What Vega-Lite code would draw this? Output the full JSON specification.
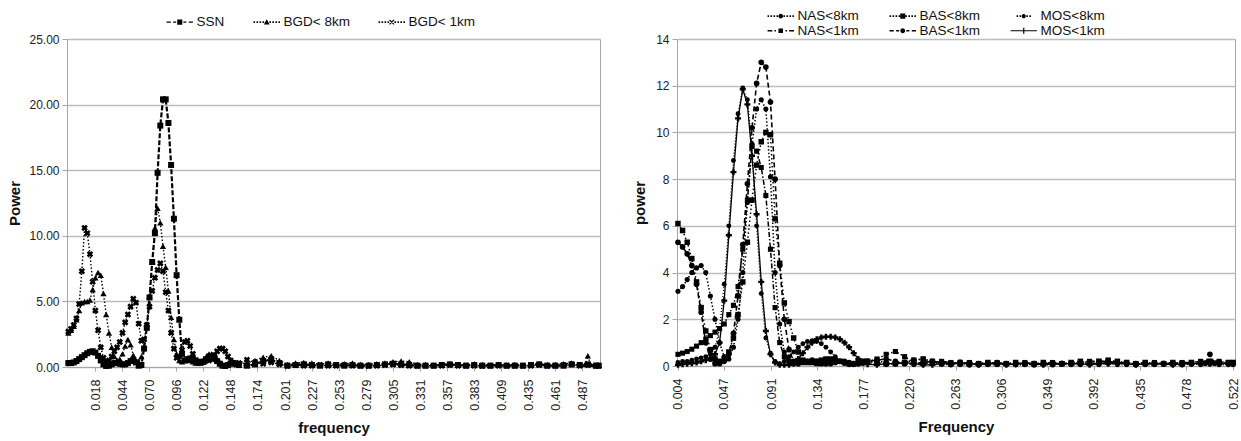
{
"$schema": "https://vega.github.io/schema/vega-lite/v6.json",
"background": "white",
"padding": {"left": 7, "top": 8, "right": 0, "bottom": 0},
"bounds": "flush",
"spacing": 77,
"resolve": {"scale": {"shape": "independent"}, "legend": {"shape": "independent"}},
"config": {
  "font": "Liberation Sans",
  "view": {"stroke": "#a6a6a6", "strokeWidth": 1},
  "axis": {"labelFont": "Liberation Sans", "labelFontSize": 12, "labelColor": "#222222", "titleFont": "Liberation Sans", "titleFontSize": 15, "titleFontWeight": "bold", "titleColor": "#111111", "gridColor": "#bdbdbd", "gridWidth": 1.3, "domainColor": "#a6a6a6", "tickColor": "#a6a6a6", "tickSize": 5}
},
"datasets": {
"ssn": [{"f":-0.0078,"p":0.3},{"f":-0.0052,"p":0.3},{"f":-0.0026,"p":0.35},{"f":0,"p":0.45},{"f":0.0026,"p":0.6},{"f":0.0052,"p":0.75},{"f":0.0078,"p":0.9},{"f":0.0104,"p":1.05},{"f":0.013,"p":1.15},{"f":0.0156,"p":1.2},{"f":0.0182,"p":1.1},{"f":0.0208,"p":0.85},{"f":0.0234,"p":0.5},{"f":0.026,"p":0.2},{"f":0.0286,"p":0.08},{"f":0.0313,"p":0.1},{"f":0.0339,"p":0.2},{"f":0.0365,"p":0.3},{"f":0.0391,"p":0.3},{"f":0.0417,"p":0.25},{"f":0.0443,"p":0.2},{"f":0.0469,"p":0.2},{"f":0.0495,"p":0.3},{"f":0.0521,"p":0.45},{"f":0.0547,"p":0.5},{"f":0.0573,"p":0.35},{"f":0.0599,"p":0.1},{"f":0.0625,"p":0.15},{"f":0.0651,"p":1.4},{"f":0.0677,"p":3},{"f":0.0703,"p":5.3},{"f":0.0729,"p":8},{"f":0.0755,"p":10.2},{"f":0.0781,"p":14.8},{"f":0.0807,"p":18.4},{"f":0.0833,"p":20.4},{"f":0.0859,"p":20.4},{"f":0.0885,"p":18.6},{"f":0.0911,"p":15.4},{"f":0.0938,"p":11.3},{"f":0.0964,"p":7},{"f":0.099,"p":3.6},{"f":0.1016,"p":1},{"f":0.1042,"p":0.5},{"f":0.1068,"p":0.6},{"f":0.1094,"p":0.65},{"f":0.112,"p":0.6},{"f":0.1146,"p":0.5},{"f":0.1172,"p":0.4},{"f":0.1198,"p":0.35},{"f":0.1224,"p":0.4},{"f":0.125,"p":0.6},{"f":0.1276,"p":0.8},{"f":0.1302,"p":0.85},{"f":0.1328,"p":0.7},{"f":0.1354,"p":0.45},{"f":0.138,"p":0.25},{"f":0.1406,"p":0.1},{"f":0.1432,"p":0.08},{"f":0.1458,"p":0.15},{"f":0.1484,"p":0.25},{"f":0.151,"p":0.3},{"f":0.1536,"p":0.25},{"f":0.1563,"p":0.15},{"f":0.1641,"p":0.1},{"f":0.1719,"p":0.2},{"f":0.1797,"p":0.45},{"f":0.1875,"p":0.55},{"f":0.1953,"p":0.3},{"f":0.2031,"p":0.1},{"f":0.2109,"p":0.15},{"f":0.2188,"p":0.2},{"f":0.2266,"p":0.15},{"f":0.2344,"p":0.1},{"f":0.2422,"p":0.2},{"f":0.25,"p":0.15},{"f":0.2578,"p":0.1},{"f":0.2656,"p":0.15},{"f":0.2734,"p":0.1},{"f":0.2813,"p":0.1},{"f":0.2891,"p":0.15},{"f":0.2969,"p":0.2},{"f":0.3047,"p":0.25},{"f":0.3125,"p":0.2},{"f":0.3203,"p":0.15},{"f":0.3281,"p":0.1},{"f":0.3359,"p":0.1},{"f":0.3438,"p":0.1},{"f":0.3516,"p":0.15},{"f":0.3594,"p":0.2},{"f":0.3672,"p":0.15},{"f":0.375,"p":0.1},{"f":0.3828,"p":0.15},{"f":0.3906,"p":0.1},{"f":0.3984,"p":0.1},{"f":0.4063,"p":0.15},{"f":0.4141,"p":0.1},{"f":0.4219,"p":0.1},{"f":0.4297,"p":0.1},{"f":0.4375,"p":0.15},{"f":0.4453,"p":0.2},{"f":0.4531,"p":0.1},{"f":0.4609,"p":0.1},{"f":0.4688,"p":0.1},{"f":0.4766,"p":0.2},{"f":0.4844,"p":0.15},{"f":0.4922,"p":0.2},{"f":0.5,"p":0.1},{"f":0.5026,"p":0.1}],
"bgd8": [{"f":-0.0078,"p":2.6},{"f":-0.0052,"p":2.8},{"f":-0.0026,"p":3.1},{"f":0,"p":3.6},{"f":0.0026,"p":4.3},{"f":0.0052,"p":4.9},{"f":0.0078,"p":5},{"f":0.0104,"p":5},{"f":0.013,"p":5.1},{"f":0.0156,"p":5.9},{"f":0.0182,"p":6.8},{"f":0.0208,"p":7.2},{"f":0.0234,"p":7},{"f":0.026,"p":5.6},{"f":0.0286,"p":4},{"f":0.0313,"p":2.6},{"f":0.0339,"p":1.5},{"f":0.0365,"p":0.8},{"f":0.0391,"p":0.5},{"f":0.0417,"p":0.6},{"f":0.0443,"p":1},{"f":0.0469,"p":1.6},{"f":0.0495,"p":2.1},{"f":0.0521,"p":1.7},{"f":0.0547,"p":0.9},{"f":0.0573,"p":0.5},{"f":0.0599,"p":0.4},{"f":0.0625,"p":0.8},{"f":0.0651,"p":1.6},{"f":0.0677,"p":3},{"f":0.0703,"p":5.4},{"f":0.0729,"p":8},{"f":0.0755,"p":10.6},{"f":0.0781,"p":12.1},{"f":0.0807,"p":11},{"f":0.0833,"p":9.2},{"f":0.0859,"p":7.6},{"f":0.0885,"p":5.8},{"f":0.0911,"p":3.8},{"f":0.0938,"p":2.1},{"f":0.0964,"p":1},{"f":0.099,"p":0.5},{"f":0.1016,"p":0.4},{"f":0.1042,"p":0.5},{"f":0.1068,"p":0.6},{"f":0.1094,"p":0.5},{"f":0.112,"p":0.4},{"f":0.1146,"p":0.3},{"f":0.1172,"p":0.3},{"f":0.1198,"p":0.4},{"f":0.1224,"p":0.6},{"f":0.125,"p":0.8},{"f":0.1276,"p":1},{"f":0.1302,"p":1},{"f":0.1328,"p":0.85},{"f":0.1354,"p":0.6},{"f":0.138,"p":0.35},{"f":0.1406,"p":0.2},{"f":0.1432,"p":0.15},{"f":0.1458,"p":0.2},{"f":0.1484,"p":0.3},{"f":0.151,"p":0.35},{"f":0.1536,"p":0.3},{"f":0.1563,"p":0.25},{"f":0.1641,"p":0.3},{"f":0.1719,"p":0.5},{"f":0.1797,"p":0.75},{"f":0.1875,"p":0.85},{"f":0.1953,"p":0.5},{"f":0.2031,"p":0.2},{"f":0.2109,"p":0.3},{"f":0.2188,"p":0.35},{"f":0.2266,"p":0.3},{"f":0.2344,"p":0.2},{"f":0.2422,"p":0.3},{"f":0.25,"p":0.2},{"f":0.2578,"p":0.25},{"f":0.2656,"p":0.3},{"f":0.2734,"p":0.2},{"f":0.2813,"p":0.2},{"f":0.2891,"p":0.25},{"f":0.2969,"p":0.3},{"f":0.3047,"p":0.4},{"f":0.3125,"p":0.45},{"f":0.3203,"p":0.4},{"f":0.3281,"p":0.2},{"f":0.3359,"p":0.2},{"f":0.3438,"p":0.15},{"f":0.3516,"p":0.2},{"f":0.3594,"p":0.25},{"f":0.3672,"p":0.2},{"f":0.375,"p":0.15},{"f":0.3828,"p":0.25},{"f":0.3906,"p":0.2},{"f":0.3984,"p":0.15},{"f":0.4063,"p":0.2},{"f":0.4141,"p":0.15},{"f":0.4219,"p":0.2},{"f":0.4297,"p":0.15},{"f":0.4375,"p":0.2},{"f":0.4453,"p":0.25},{"f":0.4531,"p":0.2},{"f":0.4609,"p":0.2},{"f":0.4688,"p":0.25},{"f":0.4766,"p":0.3},{"f":0.4844,"p":0.2},{"f":0.4896,"p":0.2},{"f":0.4922,"p":0.85},{"f":0.4948,"p":0.2},{"f":0.5,"p":0.15},{"f":0.5026,"p":0.15}],
"bgd1": [{"f":-0.0078,"p":2.7},{"f":-0.0052,"p":2.9},{"f":-0.0026,"p":3.2},{"f":0,"p":3.7},{"f":0.0026,"p":4.8},{"f":0.0052,"p":7.3},{"f":0.0078,"p":10.6},{"f":0.0104,"p":10.2},{"f":0.013,"p":8.6},{"f":0.0156,"p":6.5},{"f":0.0182,"p":4.3},{"f":0.0208,"p":2.8},{"f":0.0234,"p":1.5},{"f":0.026,"p":0.7},{"f":0.0286,"p":0.4},{"f":0.0313,"p":0.5},{"f":0.0339,"p":0.8},{"f":0.0365,"p":1.2},{"f":0.0391,"p":1.5},{"f":0.0417,"p":1.9},{"f":0.0443,"p":2.6},{"f":0.0469,"p":3.4},{"f":0.0495,"p":4},{"f":0.0521,"p":4.6},{"f":0.0547,"p":5.2},{"f":0.0573,"p":4.9},{"f":0.0599,"p":3.3},{"f":0.0625,"p":2},{"f":0.0651,"p":2.1},{"f":0.0677,"p":3.2},{"f":0.0703,"p":4.6},{"f":0.0729,"p":5.8},{"f":0.0755,"p":6.8},{"f":0.0781,"p":7.4},{"f":0.0807,"p":7.9},{"f":0.0833,"p":7.3},{"f":0.0859,"p":5.7},{"f":0.0885,"p":4.3},{"f":0.0911,"p":2.6},{"f":0.0938,"p":1.4},{"f":0.0964,"p":0.7},{"f":0.099,"p":0.8},{"f":0.1016,"p":1.3},{"f":0.1042,"p":1.9},{"f":0.1068,"p":2},{"f":0.1094,"p":1.6},{"f":0.112,"p":1},{"f":0.1146,"p":0.5},{"f":0.1172,"p":0.3},{"f":0.1198,"p":0.3},{"f":0.1224,"p":0.4},{"f":0.125,"p":0.5},{"f":0.1276,"p":0.5},{"f":0.1302,"p":0.6},{"f":0.1328,"p":0.9},{"f":0.1354,"p":1.2},{"f":0.138,"p":1.4},{"f":0.1406,"p":1.4},{"f":0.1432,"p":1.2},{"f":0.1458,"p":0.8},{"f":0.1484,"p":0.5},{"f":0.151,"p":0.3},{"f":0.1536,"p":0.2},{"f":0.1563,"p":0.3},{"f":0.1641,"p":0.55},{"f":0.1719,"p":0.35},{"f":0.1797,"p":0.25},{"f":0.1875,"p":0.35},{"f":0.1953,"p":0.2},{"f":0.2031,"p":0.1},{"f":0.2109,"p":0.15},{"f":0.2188,"p":0.1},{"f":0.2266,"p":0.1},{"f":0.2344,"p":0.15},{"f":0.2422,"p":0.1},{"f":0.25,"p":0.1},{"f":0.2578,"p":0.15},{"f":0.2656,"p":0.1},{"f":0.2734,"p":0.1},{"f":0.2813,"p":0.1},{"f":0.2891,"p":0.1},{"f":0.2969,"p":0.15},{"f":0.3047,"p":0.2},{"f":0.3125,"p":0.15},{"f":0.3203,"p":0.1},{"f":0.3281,"p":0.1},{"f":0.3359,"p":0.1},{"f":0.3438,"p":0.1},{"f":0.3516,"p":0.1},{"f":0.3594,"p":0.15},{"f":0.3672,"p":0.1},{"f":0.375,"p":0.1},{"f":0.3828,"p":0.1},{"f":0.3906,"p":0.1},{"f":0.3984,"p":0.1},{"f":0.4063,"p":0.1},{"f":0.4141,"p":0.1},{"f":0.4219,"p":0.1},{"f":0.4297,"p":0.1},{"f":0.4375,"p":0.1},{"f":0.4453,"p":0.15},{"f":0.4531,"p":0.1},{"f":0.4609,"p":0.1},{"f":0.4688,"p":0.15},{"f":0.4766,"p":0.2},{"f":0.4844,"p":0.1},{"f":0.4922,"p":0.15},{"f":0.5,"p":0.1},{"f":0.5026,"p":0.1}],
"nas8": [{"f":0.0043,"p":3.2},{"f":0.0086,"p":3.4},{"f":0.0129,"p":3.7},{"f":0.0172,"p":4},{"f":0.0216,"p":4.2},{"f":0.0259,"p":4.3},{"f":0.0302,"p":4},{"f":0.0345,"p":3},{"f":0.0388,"p":2},{"f":0.0431,"p":1},{"f":0.0474,"p":0.4},{"f":0.0517,"p":0.3},{"f":0.056,"p":0.8},{"f":0.0603,"p":2},{"f":0.0647,"p":4},{"f":0.069,"p":7},{"f":0.0733,"p":9.5},{"f":0.0776,"p":11},{"f":0.0819,"p":11.4},{"f":0.0862,"p":11},{"f":0.0905,"p":8.1},{"f":0.0948,"p":4},{"f":0.0991,"p":1.8},{"f":0.1034,"p":0.6},{"f":0.1078,"p":0.2},{"f":0.1121,"p":0.1},{"f":0.1164,"p":0.1},{"f":0.1207,"p":0.15},{"f":0.125,"p":0.2},{"f":0.1293,"p":0.2},{"f":0.1336,"p":0.15},{"f":0.1379,"p":0.1},{"f":0.1422,"p":0.1},{"f":0.1466,"p":0.15},{"f":0.1509,"p":0.2},{"f":0.1552,"p":0.2},{"f":0.1595,"p":0.15},{"f":0.1638,"p":0.1},{"f":0.1681,"p":0.1},{"f":0.1724,"p":0.1},{"f":0.1767,"p":0.15},{"f":0.181,"p":0.2},{"f":0.1897,"p":0.2},{"f":0.1983,"p":0.15},{"f":0.2069,"p":0.1},{"f":0.2155,"p":0.15},{"f":0.2241,"p":0.25},{"f":0.2328,"p":0.3},{"f":0.2414,"p":0.15},{"f":0.25,"p":0.1},{"f":0.2586,"p":0.05},{"f":0.2672,"p":0.1},{"f":0.2759,"p":0.1},{"f":0.2845,"p":0.05},{"f":0.2931,"p":0.1},{"f":0.3017,"p":0.1},{"f":0.3103,"p":0.1},{"f":0.319,"p":0.05},{"f":0.3276,"p":0.1},{"f":0.3362,"p":0.1},{"f":0.3448,"p":0.1},{"f":0.3534,"p":0.05},{"f":0.3621,"p":0.1},{"f":0.3707,"p":0.1},{"f":0.3793,"p":0.1},{"f":0.3879,"p":0.1},{"f":0.3966,"p":0.15},{"f":0.4052,"p":0.2},{"f":0.4138,"p":0.15},{"f":0.4224,"p":0.1},{"f":0.431,"p":0.05},{"f":0.4397,"p":0.1},{"f":0.4483,"p":0.1},{"f":0.4569,"p":0.1},{"f":0.4655,"p":0.1},{"f":0.4741,"p":0.05},{"f":0.4828,"p":0.1},{"f":0.4914,"p":0.1},{"f":0.5,"p":0.1},{"f":0.5086,"p":0.1},{"f":0.5172,"p":0.1},{"f":0.5216,"p":0.1}],
"nas1": [{"f":0.0043,"p":0.5},{"f":0.0086,"p":0.55},{"f":0.0129,"p":0.62},{"f":0.0172,"p":0.72},{"f":0.0216,"p":0.85},{"f":0.0259,"p":1},{"f":0.0302,"p":1.15},{"f":0.0345,"p":1.3},{"f":0.0388,"p":1.45},{"f":0.0431,"p":1.6},{"f":0.0474,"p":1.8},{"f":0.0517,"p":2.2},{"f":0.056,"p":2.6},{"f":0.0603,"p":3.4},{"f":0.0647,"p":5},{"f":0.069,"p":7.1},{"f":0.0733,"p":9.4},{"f":0.0776,"p":9.2},{"f":0.0819,"p":8.5},{"f":0.0862,"p":7.3},{"f":0.0905,"p":5},{"f":0.0948,"p":2.5},{"f":0.0991,"p":1},{"f":0.1034,"p":0.4},{"f":0.1078,"p":0.2},{"f":0.1121,"p":0.15},{"f":0.1164,"p":0.15},{"f":0.1207,"p":0.2},{"f":0.125,"p":0.2},{"f":0.1293,"p":0.15},{"f":0.1336,"p":0.1},{"f":0.1379,"p":0.1},{"f":0.1422,"p":0.15},{"f":0.1466,"p":0.2},{"f":0.1509,"p":0.25},{"f":0.1552,"p":0.2},{"f":0.1595,"p":0.15},{"f":0.1638,"p":0.1},{"f":0.1681,"p":0.1},{"f":0.1724,"p":0.15},{"f":0.1767,"p":0.2},{"f":0.181,"p":0.2},{"f":0.1897,"p":0.3},{"f":0.1983,"p":0.5},{"f":0.2069,"p":0.62},{"f":0.2155,"p":0.4},{"f":0.2241,"p":0.15},{"f":0.2328,"p":0.1},{"f":0.2414,"p":0.15},{"f":0.25,"p":0.2},{"f":0.2586,"p":0.15},{"f":0.2672,"p":0.1},{"f":0.2759,"p":0.15},{"f":0.2845,"p":0.1},{"f":0.2931,"p":0.1},{"f":0.3017,"p":0.15},{"f":0.3103,"p":0.1},{"f":0.319,"p":0.1},{"f":0.3276,"p":0.15},{"f":0.3362,"p":0.1},{"f":0.3448,"p":0.1},{"f":0.3534,"p":0.15},{"f":0.3621,"p":0.1},{"f":0.3707,"p":0.1},{"f":0.3793,"p":0.15},{"f":0.3879,"p":0.2},{"f":0.3966,"p":0.2},{"f":0.4052,"p":0.2},{"f":0.4138,"p":0.15},{"f":0.4224,"p":0.15},{"f":0.431,"p":0.1},{"f":0.4397,"p":0.1},{"f":0.4483,"p":0.15},{"f":0.4569,"p":0.1},{"f":0.4655,"p":0.1},{"f":0.4741,"p":0.15},{"f":0.4828,"p":0.15},{"f":0.4914,"p":0.2},{"f":0.5,"p":0.2},{"f":0.5086,"p":0.2},{"f":0.5172,"p":0.15},{"f":0.5216,"p":0.15}],
"bas8": [{"f":0.0043,"p":6.1},{"f":0.0086,"p":5.8},{"f":0.0129,"p":5.3},{"f":0.0172,"p":4.6},{"f":0.0216,"p":3.6},{"f":0.0259,"p":2.5},{"f":0.0302,"p":1.5},{"f":0.0345,"p":0.7},{"f":0.0388,"p":0.3},{"f":0.0431,"p":0.2},{"f":0.0474,"p":0.3},{"f":0.0517,"p":0.6},{"f":0.056,"p":1.2},{"f":0.0603,"p":2.2},{"f":0.0647,"p":3.6},{"f":0.069,"p":5.3},{"f":0.0733,"p":7.1},{"f":0.0776,"p":8.6},{"f":0.0819,"p":9.6},{"f":0.0862,"p":10},{"f":0.0905,"p":9.9},{"f":0.0948,"p":6.3},{"f":0.0991,"p":4.4},{"f":0.1034,"p":2.7},{"f":0.1078,"p":1.9},{"f":0.1121,"p":1.2},{"f":0.1164,"p":0.6},{"f":0.1207,"p":0.25},{"f":0.125,"p":0.15},{"f":0.1293,"p":0.15},{"f":0.1336,"p":0.2},{"f":0.1379,"p":0.25},{"f":0.1422,"p":0.3},{"f":0.1466,"p":0.3},{"f":0.1509,"p":0.25},{"f":0.1552,"p":0.2},{"f":0.1595,"p":0.15},{"f":0.1638,"p":0.1},{"f":0.1681,"p":0.1},{"f":0.1724,"p":0.15},{"f":0.1767,"p":0.2},{"f":0.181,"p":0.2},{"f":0.1897,"p":0.15},{"f":0.1983,"p":0.1},{"f":0.2069,"p":0.1},{"f":0.2155,"p":0.15},{"f":0.2241,"p":0.25},{"f":0.2328,"p":0.3},{"f":0.2414,"p":0.2},{"f":0.25,"p":0.1},{"f":0.2586,"p":0.1},{"f":0.2672,"p":0.15},{"f":0.2759,"p":0.1},{"f":0.2845,"p":0.1},{"f":0.2931,"p":0.15},{"f":0.3017,"p":0.1},{"f":0.3103,"p":0.1},{"f":0.319,"p":0.15},{"f":0.3276,"p":0.1},{"f":0.3362,"p":0.1},{"f":0.3448,"p":0.15},{"f":0.3534,"p":0.1},{"f":0.3621,"p":0.1},{"f":0.3707,"p":0.15},{"f":0.3793,"p":0.2},{"f":0.3879,"p":0.15},{"f":0.3966,"p":0.2},{"f":0.4052,"p":0.25},{"f":0.4138,"p":0.2},{"f":0.4224,"p":0.15},{"f":0.431,"p":0.1},{"f":0.4397,"p":0.15},{"f":0.4483,"p":0.1},{"f":0.4569,"p":0.1},{"f":0.4655,"p":0.15},{"f":0.4741,"p":0.1},{"f":0.4828,"p":0.15},{"f":0.4914,"p":0.15},{"f":0.5,"p":0.2},{"f":0.5086,"p":0.15},{"f":0.5172,"p":0.15},{"f":0.5216,"p":0.15}],
"bas1": [{"f":0.0043,"p":5.3},{"f":0.0086,"p":5.1},{"f":0.0129,"p":4.8},{"f":0.0172,"p":4.3},{"f":0.0216,"p":3.5},{"f":0.0259,"p":2.3},{"f":0.0302,"p":1},{"f":0.0345,"p":0.3},{"f":0.0388,"p":0.1},{"f":0.0431,"p":0.1},{"f":0.0474,"p":0.2},{"f":0.0517,"p":0.5},{"f":0.056,"p":1.4},{"f":0.0603,"p":3},{"f":0.0647,"p":5.2},{"f":0.069,"p":7.8},{"f":0.0733,"p":10.2},{"f":0.0776,"p":12.1},{"f":0.0819,"p":13},{"f":0.0862,"p":12.8},{"f":0.0905,"p":11.3},{"f":0.0948,"p":8},{"f":0.0991,"p":4.3},{"f":0.1034,"p":2},{"f":0.1078,"p":0.7},{"f":0.1121,"p":0.2},{"f":0.1164,"p":0.1},{"f":0.1207,"p":0.15},{"f":0.125,"p":0.2},{"f":0.1293,"p":0.25},{"f":0.1336,"p":0.2},{"f":0.1379,"p":0.15},{"f":0.1422,"p":0.1},{"f":0.1466,"p":0.1},{"f":0.1509,"p":0.15},{"f":0.1552,"p":0.2},{"f":0.1595,"p":0.2},{"f":0.1638,"p":0.15},{"f":0.1681,"p":0.1},{"f":0.1724,"p":0.1},{"f":0.1767,"p":0.15},{"f":0.181,"p":0.2},{"f":0.1897,"p":0.25},{"f":0.1983,"p":0.3},{"f":0.2069,"p":0.2},{"f":0.2155,"p":0.1},{"f":0.2241,"p":0.1},{"f":0.2328,"p":0.15},{"f":0.2414,"p":0.2},{"f":0.25,"p":0.15},{"f":0.2586,"p":0.1},{"f":0.2672,"p":0.1},{"f":0.2759,"p":0.05},{"f":0.2845,"p":0.1},{"f":0.2931,"p":0.1},{"f":0.3017,"p":0.15},{"f":0.3103,"p":0.1},{"f":0.319,"p":0.1},{"f":0.3276,"p":0.1},{"f":0.3362,"p":0.05},{"f":0.3448,"p":0.1},{"f":0.3534,"p":0.1},{"f":0.3621,"p":0.1},{"f":0.3707,"p":0.1},{"f":0.3793,"p":0.1},{"f":0.3879,"p":0.1},{"f":0.3966,"p":0.1},{"f":0.4052,"p":0.15},{"f":0.4138,"p":0.15},{"f":0.4224,"p":0.1},{"f":0.431,"p":0.1},{"f":0.4397,"p":0.1},{"f":0.4483,"p":0.1},{"f":0.4569,"p":0.1},{"f":0.4655,"p":0.1},{"f":0.4741,"p":0.1},{"f":0.4828,"p":0.1},{"f":0.4914,"p":0.15},{"f":0.4957,"p":0.12},{"f":0.5,"p":0.5},{"f":0.5043,"p":0.12},{"f":0.5086,"p":0.15},{"f":0.5172,"p":0.1},{"f":0.5216,"p":0.1}],
"mos8": [{"f":0.0043,"p":0.15},{"f":0.0086,"p":0.2},{"f":0.0129,"p":0.2},{"f":0.0172,"p":0.25},{"f":0.0216,"p":0.3},{"f":0.0259,"p":0.35},{"f":0.0302,"p":0.4},{"f":0.0345,"p":0.5},{"f":0.0388,"p":0.8},{"f":0.0431,"p":1.6},{"f":0.0474,"p":3.5},{"f":0.0517,"p":6},{"f":0.056,"p":8.8},{"f":0.0603,"p":10.8},{"f":0.0647,"p":11.9},{"f":0.069,"p":11.4},{"f":0.0733,"p":9.4},{"f":0.0776,"p":6},{"f":0.0819,"p":3.1},{"f":0.0862,"p":1.2},{"f":0.0905,"p":0.55},{"f":0.0948,"p":0.2},{"f":0.0991,"p":0.1},{"f":0.1034,"p":0.2},{"f":0.1078,"p":0.4},{"f":0.1121,"p":0.6},{"f":0.1164,"p":0.8},{"f":0.1207,"p":0.95},{"f":0.125,"p":1.05},{"f":0.1293,"p":1.08},{"f":0.1336,"p":1.05},{"f":0.1379,"p":0.95},{"f":0.1422,"p":0.8},{"f":0.1466,"p":0.6},{"f":0.1509,"p":0.4},{"f":0.1552,"p":0.2},{"f":0.1595,"p":0.1},{"f":0.1638,"p":0.05},{"f":0.1681,"p":0.05},{"f":0.1724,"p":0.1},{"f":0.1767,"p":0.1},{"f":0.181,"p":0.15},{"f":0.1897,"p":0.1},{"f":0.1983,"p":0.05},{"f":0.2069,"p":0.1},{"f":0.2155,"p":0.1},{"f":0.2241,"p":0.05},{"f":0.2328,"p":0.05},{"f":0.2414,"p":0.1},{"f":0.25,"p":0.1},{"f":0.2586,"p":0.1},{"f":0.2672,"p":0.05},{"f":0.2759,"p":0.05},{"f":0.2845,"p":0.1},{"f":0.2931,"p":0.05},{"f":0.3017,"p":0.05},{"f":0.3103,"p":0.1},{"f":0.319,"p":0.05},{"f":0.3276,"p":0.05},{"f":0.3362,"p":0.1},{"f":0.3448,"p":0.05},{"f":0.3534,"p":0.05},{"f":0.3621,"p":0.1},{"f":0.3707,"p":0.05},{"f":0.3793,"p":0.05},{"f":0.3879,"p":0.1},{"f":0.3966,"p":0.05},{"f":0.4052,"p":0.1},{"f":0.4138,"p":0.05},{"f":0.4224,"p":0.05},{"f":0.431,"p":0.1},{"f":0.4397,"p":0.05},{"f":0.4483,"p":0.05},{"f":0.4569,"p":0.1},{"f":0.4655,"p":0.05},{"f":0.4741,"p":0.05},{"f":0.4828,"p":0.1},{"f":0.4914,"p":0.05},{"f":0.5,"p":0.1},{"f":0.5086,"p":0.05},{"f":0.5172,"p":0.05},{"f":0.5216,"p":0.05}],
"mos1": [{"f":0.0043,"p":0.05},{"f":0.0086,"p":0.08},{"f":0.0129,"p":0.1},{"f":0.0172,"p":0.12},{"f":0.0216,"p":0.15},{"f":0.0259,"p":0.2},{"f":0.0302,"p":0.25},{"f":0.0345,"p":0.3},{"f":0.0388,"p":0.5},{"f":0.0431,"p":1},{"f":0.0474,"p":2.8},{"f":0.0517,"p":5.6},{"f":0.056,"p":8.3},{"f":0.0603,"p":10.6},{"f":0.0647,"p":11.85},{"f":0.069,"p":11.2},{"f":0.0733,"p":9},{"f":0.0776,"p":6.5},{"f":0.0819,"p":3.6},{"f":0.0862,"p":1.5},{"f":0.0905,"p":0.5},{"f":0.0948,"p":0.15},{"f":0.0991,"p":0.05},{"f":0.1034,"p":0.05},{"f":0.1078,"p":0.05},{"f":0.1121,"p":0.1},{"f":0.1164,"p":0.3},{"f":0.1207,"p":0.55},{"f":0.125,"p":0.8},{"f":0.1293,"p":1},{"f":0.1336,"p":1.15},{"f":0.1379,"p":1.22},{"f":0.1422,"p":1.25},{"f":0.1466,"p":1.25},{"f":0.1509,"p":1.22},{"f":0.1552,"p":1.15},{"f":0.1595,"p":1},{"f":0.1638,"p":0.8},{"f":0.1681,"p":0.55},{"f":0.1724,"p":0.3},{"f":0.1767,"p":0.15},{"f":0.181,"p":0.08},{"f":0.1897,"p":0.05},{"f":0.1983,"p":0.1},{"f":0.2069,"p":0.1},{"f":0.2155,"p":0.15},{"f":0.2241,"p":0.1},{"f":0.2328,"p":0.05},{"f":0.2414,"p":0.05},{"f":0.25,"p":0.1},{"f":0.2586,"p":0.1},{"f":0.2672,"p":0.15},{"f":0.2759,"p":0.1},{"f":0.2845,"p":0.05},{"f":0.2931,"p":0.1},{"f":0.3017,"p":0.1},{"f":0.3103,"p":0.05},{"f":0.319,"p":0.1},{"f":0.3276,"p":0.1},{"f":0.3362,"p":0.1},{"f":0.3448,"p":0.05},{"f":0.3534,"p":0.1},{"f":0.3621,"p":0.1},{"f":0.3707,"p":0.1},{"f":0.3793,"p":0.1},{"f":0.3879,"p":0.05},{"f":0.3966,"p":0.1},{"f":0.4052,"p":0.1},{"f":0.4138,"p":0.1},{"f":0.4224,"p":0.1},{"f":0.431,"p":0.05},{"f":0.4397,"p":0.1},{"f":0.4483,"p":0.1},{"f":0.4569,"p":0.1},{"f":0.4655,"p":0.05},{"f":0.4741,"p":0.1},{"f":0.4828,"p":0.1},{"f":0.4914,"p":0.1},{"f":0.5,"p":0.1},{"f":0.5086,"p":0.1},{"f":0.5172,"p":0.1},{"f":0.5216,"p":0.1}]
},
"hconcat": [
{
  "width": 533, "height": 328,
  "encoding": {
    "x": {"field": "f", "type": "quantitative", "scale": {"domain": [-0.0091, 0.5039], "nice": false, "zero": false},
      "axis": {"title": "frequency", "values": [0.018,0.044,0.070,0.096,0.122,0.148,0.174,0.201,0.227,0.253,0.279,0.305,0.331,0.357,0.383,0.409,0.435,0.461,0.487], "format": ".3f", "labelAngle": -90, "labelFontSize": 12.5, "grid": false, "tickSize": 4, "labelPadding": 8, "titlePadding": 10}},
    "y": {"field": "p", "type": "quantitative", "scale": {"domain": [0, 25], "nice": false},
      "axis": {"title": "Power", "values": [0,5,10,15,20,25], "format": ".2f", "labelPadding": 3, "titlePadding": 6}}
  },
  "layer": [
    {"data": {"name": "bgd1"}, "mark": {"type": "line", "color": "black", "strokeWidth": 1.4, "strokeDash": [1.5, 2], "point": {"shape": "cross", "angle": 45, "size": 44, "filled": true, "color": "black", "opacity": 1}}},
    {"data": {"name": "bgd8"}, "mark": {"type": "line", "color": "black", "strokeWidth": 1.4, "strokeDash": [1.5, 2], "point": {"shape": "triangle-up", "size": 40, "filled": true, "color": "black", "opacity": 1}}},
    {"data": {"name": "ssn"}, "mark": {"type": "line", "color": "black", "strokeWidth": 2.2, "strokeDash": [5, 2], "point": {"shape": "square", "size": 36, "filled": true, "color": "black", "opacity": 1}}},
    {"data": {"values": [{"s": "SSN"}, {"s": "BGD< 8km"}, {"s": "BGD< 1km"}]},
     "transform": [{"filter": "isValid(datum.f)"}],
     "mark": {"type": "point", "filled": true, "color": "black", "opacity": 1},
     "encoding": {"shape": {"field": "s", "type": "nominal",
       "scale": {"domain": ["SSN", "BGD< 8km", "BGD< 1km"], "range": [
         "M-2.2,-0.12H-1.5V0.12H-2.2Z M-1.1,-0.12H-0.6V0.12H-1.1Z M0.6,-0.12H1.1V0.12H0.6Z M1.5,-0.12H2.2V0.12H1.5Z M-0.42,-0.42H0.42V0.42H-0.42Z",
         "M-2.2,-0.13h0.26v0.26h-0.26Z M-1.7,-0.13h0.26v0.26h-0.26Z M-1.2,-0.13h0.26v0.26h-0.26Z M-0.7,-0.13h0.26v0.26h-0.26Z M0.44,-0.13h0.26v0.26h-0.26Z M0.94,-0.13h0.26v0.26h-0.26Z M1.44,-0.13h0.26v0.26h-0.26Z M1.94,-0.13h0.26v0.26h-0.26Z M0,-0.5L0.48,0.38H-0.48Z",
         "M-2.2,-0.13h0.26v0.26h-0.26Z M-1.7,-0.13h0.26v0.26h-0.26Z M-1.2,-0.13h0.26v0.26h-0.26Z M-0.7,-0.13h0.26v0.26h-0.26Z M0.44,-0.13h0.26v0.26h-0.26Z M0.94,-0.13h0.26v0.26h-0.26Z M1.44,-0.13h0.26v0.26h-0.26Z M1.94,-0.13h0.26v0.26h-0.26Z M-0.45,-0.3L-0.3,-0.45L0.45,0.3L0.3,0.45Z M0.3,-0.45L0.45,-0.3L-0.3,0.45L-0.45,0.3Z"
       ]},
       "legend": {"title": null, "orient": "none", "legendX": 106, "legendY": -24, "direction": "horizontal", "symbolSize": 144, "symbolFillColor": "black", "symbolStrokeColor": "black", "symbolStrokeWidth": 0, "symbolOpacity": 1, "labelOffset": 10, "columnPadding": 28, "labelFont": "Liberation Sans", "labelFontSize": 13.5, "labelColor": "#111111", "padding": 0}}}}
  ]
},
{
  "width": 558, "height": 327,
  "encoding": {
    "x": {"field": "f", "type": "quantitative", "scale": {"domain": [0.0034, 0.5234], "nice": false, "zero": false},
      "axis": {"title": "Frequency", "values": [0.004,0.047,0.091,0.134,0.177,0.220,0.263,0.306,0.349,0.392,0.435,0.478,0.522], "format": ".3f", "labelAngle": -90, "labelFontSize": 12.5, "grid": false, "tickSize": 4, "labelPadding": 8, "titlePadding": 10}},
    "y": {"field": "p", "type": "quantitative", "scale": {"domain": [0, 14], "nice": false},
      "axis": {"title": "power", "values": [0,2,4,6,8,10,12,14], "format": "d", "labelPadding": 3, "titlePadding": 8}}
  },
  "layer": [
    {"data": {"name": "mos8"}, "mark": {"type": "line", "color": "black", "strokeWidth": 1.3, "strokeDash": [1, 2], "point": {"shape": "circle", "size": 24, "filled": true, "color": "black", "opacity": 1}}},
    {"data": {"name": "mos1"}, "mark": {"type": "line", "color": "black", "strokeWidth": 1.3, "point": {"shape": "cross", "size": 36, "filled": true, "color": "black", "opacity": 1}}},
    {"data": {"name": "nas8"}, "mark": {"type": "line", "color": "black", "strokeWidth": 1.5, "strokeDash": [1.5, 2], "point": {"shape": "circle", "size": 26, "filled": true, "color": "black", "opacity": 1}}},
    {"data": {"name": "nas1"}, "mark": {"type": "line", "color": "black", "strokeWidth": 1.5, "strokeDash": [5, 2, 1.5, 2], "point": {"shape": "square", "size": 26, "filled": true, "color": "black", "opacity": 1}}},
    {"data": {"name": "bas8"}, "mark": {"type": "line", "color": "black", "strokeWidth": 1.5, "strokeDash": [1.5, 2.5], "point": {"shape": "square", "size": 30, "filled": true, "color": "black", "opacity": 1}}},
    {"data": {"name": "bas1"}, "mark": {"type": "line", "color": "black", "strokeWidth": 1.6, "strokeDash": [5, 3], "point": {"shape": "circle", "size": 32, "filled": true, "color": "black", "opacity": 1}}},
    {"data": {"values": [{"s": "NAS<8km"}, {"s": "BAS<8km"}, {"s": "MOS<8km"}, {"s": "NAS<1km"}, {"s": "BAS<1km"}, {"s": "MOS<1km"}]},
     "transform": [{"filter": "isValid(datum.f)"}],
     "mark": {"type": "point", "filled": true, "color": "black", "opacity": 1},
     "encoding": {"shape": {"field": "s", "type": "nominal",
       "scale": {"domain": ["NAS<8km", "BAS<8km", "MOS<8km", "NAS<1km", "BAS<1km", "MOS<1km"], "range": [
         "M-2.2,-0.13h0.26v0.26h-0.26Z M-1.7,-0.13h0.26v0.26h-0.26Z M-1.2,-0.13h0.26v0.26h-0.26Z M-0.7,-0.13h0.26v0.26h-0.26Z M0.44,-0.13h0.26v0.26h-0.26Z M0.94,-0.13h0.26v0.26h-0.26Z M1.44,-0.13h0.26v0.26h-0.26Z M1.94,-0.13h0.26v0.26h-0.26Z M0.38,0A0.38,0.38,0,1,1,-0.38,0A0.38,0.38,0,1,1,0.38,0Z",
         "M-2.2,-0.13h0.26v0.26h-0.26Z M-1.7,-0.13h0.26v0.26h-0.26Z M-1.2,-0.13h0.26v0.26h-0.26Z M-0.7,-0.13h0.26v0.26h-0.26Z M0.44,-0.13h0.26v0.26h-0.26Z M0.94,-0.13h0.26v0.26h-0.26Z M1.44,-0.13h0.26v0.26h-0.26Z M1.94,-0.13h0.26v0.26h-0.26Z M-0.42,-0.42H0.42V0.42H-0.42Z",
         "M-1.2,-0.13h0.26v0.26h-0.26Z M-0.7,-0.13h0.26v0.26h-0.26Z M0.44,-0.13h0.26v0.26h-0.26Z M0.94,-0.13h0.26v0.26h-0.26Z M0.34,0A0.34,0.34,0,1,1,-0.34,0A0.34,0.34,0,1,1,0.34,0Z",
         "M-2.2,-0.12H-1.4V0.12H-2.2Z M-1.05,-0.12H-0.8V0.12H-1.05Z M0.8,-0.12H1.05V0.12H0.8Z M1.4,-0.12H2.2V0.12H1.4Z M-0.38,-0.38H0.38V0.38H-0.38Z",
         "M-2.2,-0.12H-1.5V0.12H-2.2Z M-1.1,-0.12H-0.6V0.12H-1.1Z M0.6,-0.12H1.1V0.12H0.6Z M1.5,-0.12H2.2V0.12H1.5Z M0.4,0A0.4,0.4,0,1,1,-0.4,0A0.4,0.4,0,1,1,0.4,0Z",
         "M-2.2,-0.1H2.2V0.1H-2.2Z M-0.1,-0.5H0.1V-0.1H0.5V0.1H0.1V0.5H-0.1V0.1H-0.5V-0.1H-0.1Z"
       ]},
       "legend": {"title": null, "orient": "none", "legendX": 97, "legendY": -30, "columns": 3, "direction": "horizontal", "symbolSize": 144, "symbolFillColor": "black", "symbolStrokeColor": "black", "symbolStrokeWidth": 0, "symbolOpacity": 1, "labelOffset": 10, "columnPadding": 30, "rowPadding": 0, "labelFont": "Liberation Sans", "labelFontSize": 13.5, "labelColor": "#111111", "padding": 0}}}}
  ]
}
]
}
